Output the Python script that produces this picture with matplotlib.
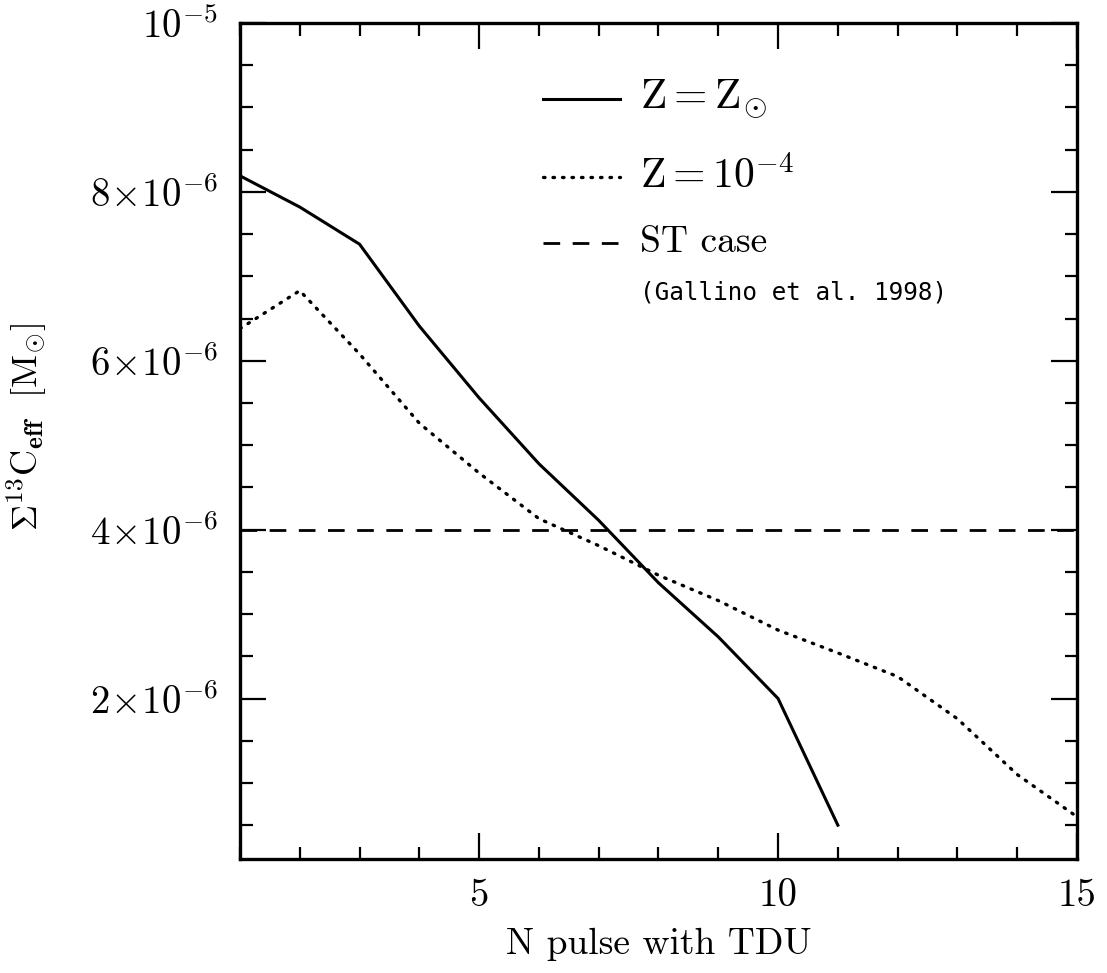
import matplotlib
matplotlib.use("Agg")
import matplotlib.pyplot as plt
from matplotlib.ticker import MultipleLocator, FuncFormatter

plt.rcParams['font.family'] = 'serif'
plt.rcParams['font.serif'] = ['cmr10', 'DejaVu Serif']
plt.rcParams['mathtext.fontset'] = 'cm'
plt.rcParams['axes.unicode_minus'] = False

# Data (units of 1e-6 Msun)
n_solar = [1, 2, 3, 4, 5, 6, 7, 8, 9, 10, 11]
c13_solar = [8.19, 7.82, 7.38, 6.41, 5.56, 4.78, 4.11, 3.37, 2.73, 2.00, 0.50]
n_lowz = [1, 2, 3, 4, 5, 6, 7, 8, 9, 10, 11, 12, 13, 14, 15]
c13_lowz = [6.38, 6.83, 6.08, 5.26, 4.67, 4.13, 3.81, 3.46, 3.16, 2.81, 2.54, 2.26, 1.76, 1.10, 0.60]
st_case = 4.0

scale = 1e-6
fig = plt.figure(figsize=(11.07, 9.73), dpi=100)
ax = fig.add_axes([0.2168, 0.1172, 0.7561, 0.8592])

ax.plot(n_solar, [v * scale for v in c13_solar], color='black', lw=2.2, solid_joinstyle='miter')
ax.plot(n_lowz, [v * scale for v in c13_lowz], color='black', lw=2.4,
        linestyle=(0, (0.45, 2.4)), dash_capstyle='round')
ax.axhline(st_case * scale, color='black', lw=2.0, linestyle=(0, (6.0, 4.5)))

ax.set_xlim(1, 15)
ax.set_ylim(1e-7, 1e-5)

ax.xaxis.set_major_locator(MultipleLocator(5))
ax.xaxis.set_minor_locator(MultipleLocator(1))
ax.yaxis.set_major_locator(MultipleLocator(2e-6))
ax.yaxis.set_minor_locator(MultipleLocator(5e-7))

def yfmt(v, pos):
    k = int(round(v / 1e-6))
    if k == 10:
        return r'$10^{-5}$'
    if k <= 0:
        return ''
    return r'$%d\!\times\!10^{-6}$' % k

ax.yaxis.set_major_formatter(FuncFormatter(yfmt))
ax.xaxis.set_major_formatter(FuncFormatter(lambda v, p: '%d' % v))

ax.tick_params(which='both', direction='in', top=True, right=True, width=1.6, colors='black')
ax.tick_params(which='major', length=19, labelsize=28, pad=14)
ax.tick_params(which='minor', length=9)
ax.tick_params(axis='y', which='major', pad=16)
for s in ax.spines.values():
    s.set_linewidth(2.4)

ax.set_xlabel('N pulse with TDU', fontsize=27, labelpad=10)
ax.set_ylabel(r'$\Sigma^{13}\mathrm{C}_{\mathbf{eff}}\ \ [\mathrm{M}_{\odot}]$', fontsize=26)
ax.yaxis.set_label_coords(-0.228, 0.517)

# Legend drawn manually
tr = ax.transAxes
ax.plot([0.362, 0.454], [0.909, 0.909], color='black', lw=2.2, transform=tr)
ax.plot([0.362, 0.454], [0.816, 0.816], color='black', lw=2.4,
        linestyle=(0, (0.45, 2.4)), dash_capstyle='round', transform=tr)
ax.plot([0.362, 0.454], [0.737, 0.737], color='black', lw=2.0,
        linestyle=(0, (6.0, 4.5)), transform=tr)
ax.text(0.478, 0.909, r'$\mathrm{Z=Z}_{\odot}$', fontsize=31, transform=tr, va='center', ha='left')
ax.text(0.478, 0.816, r'$\mathrm{Z=10}^{-4}$', fontsize=30, transform=tr, va='center', ha='left')
ax.text(0.478, 0.737, 'ST case', fontsize=27, transform=tr, va='center', ha='left')
ax.text(0.478, 0.678, '(Gallino et al. 1998)', fontsize=17.5, family='DejaVu Sans Mono',
        transform=tr, va='center', ha='left')

fig.savefig('out.png', dpi=100)
